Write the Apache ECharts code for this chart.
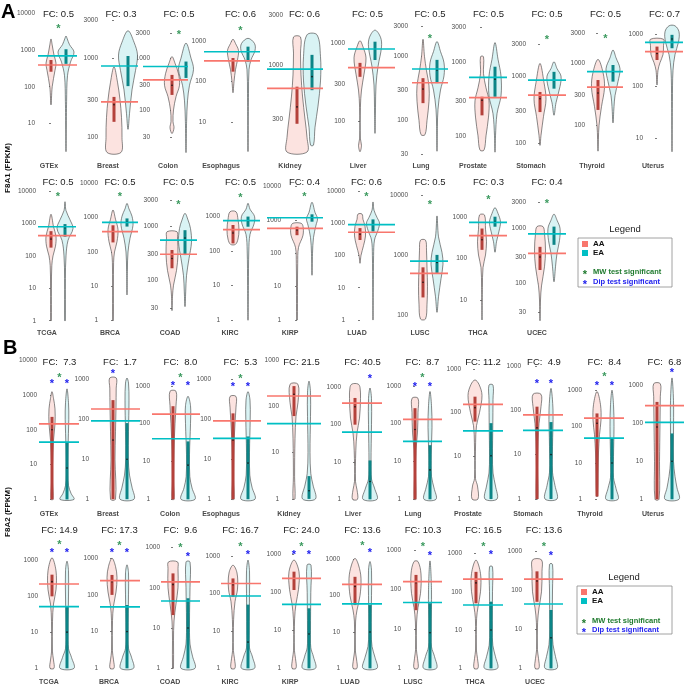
<!DOCTYPE html>
<html><head><meta charset="utf-8">
<script src="https://cdn.jsdelivr.net/npm/echarts@6/dist/echarts.min.js"></script>
<style>html,body{margin:0;padding:0;background:#fff}#c{width:685px;height:685px}</style>
</head><body><div id="c"></div>
<script>
// ================= DATA =================
// ---- Panel A, F8A1, row 1 (GTEx tissues) ----
const a1_names = ['GTEx','Breast','Colon','Esophagus','Kidney','Liver','Lung','Prostate','Stomach','Thyroid','Uterus'];
const a1_fc = [0.5,0.3,0.5,0.6,0.6,0.5,0.5,0.5,0.5,0.5,0.7];
const a1_ticks = [[10,100,1000,10000],[100,300,1000,3000],[30,100,300,1000,3000],[10,100,1000],[300,1000,3000],[100,300,1000],[30,100,300,1000,3000],[100,300,1000,3000],[100,300,1000,3000],[30,100,300,1000,3000],[10,100,1000]];
const a1_logRange = [[0.14,4.09],[1.78,3.61],[1.13,3.93],[0.17,3.79],[2.13,3.53],[1.56,3.43],[1.46,3.73],[1.74,3.71],[1.82,3.99],[1.53,3.84],[0.67,3.46]];
// violin profiles: [FPKM value, half-width of density]
const a1_aaViolin = [
 [[32,0],[100,1.2],[280,4],[440,5],[730,3],[1370,1.2],[2000,0]],
 [[65,7],[100,8],[180,7.5],[300,6],[500,3.5],[780,0]],
 [[35,0],[45,2],[60,1],[100,1.5],[180,4],[300,7.5],[500,6.5],[800,3],[1070,0]],
 [[53,0],[100,1],[200,2.5],[350,4.5],[600,5.5],[900,2.5],[1150,0]],
 [[144,10],[200,10],[300,8],[500,5.5],[800,4],[1300,3.5],[1860,3.5]],
 [[40,0],[48,1.5],[60,0.3],[150,0.4],[250,1.5],[400,4],[650,6],[900,3],[1080,0]],
 [[60,2],[100,4],[200,6],[350,6],[600,3.5],[1000,1.5],[1870,0]],
 [[64,2],[100,4],[180,6.5],[300,7],[450,4],[700,1.5],[1190,1.5]],
 [[92,0],[130,1],[250,3.5],[450,6],[800,4],[1550,0]],
 [[39,0],[60,0.4],[100,1],[200,3.5],[400,6.5],[700,5],[1130,0]],
 [[104,0],[200,1],[280,3],[400,6],[600,6.5],[790,6.5]]
];
const a1_eaViolin = [
 [[1.7,0],[40,0.6],[200,1.5],[470,4.5],[880,8],[1400,3.5],[2100,1],[2400,0]],
 [[127,0],[200,1.5],[400,4],[700,7.5],[1100,9.5],[1600,6],[2230,0]],
 [[15,0],[60,0.6],[150,1.5],[300,3.5],[600,7.5],[1000,5],[1950,0]],
 [[1.8,0],[50,0.5],[200,1],[350,3],[600,7],[900,6.5],[1210,0]],
 [[168,1.5],[250,3],[400,6],[700,8.5],[1200,8.5],[1950,5]],
 [[69,0],[150,0.5],[290,1],[500,3],[900,6.5],[1200,5.5],[1480,0]],
 [[33,0],[80,0.4],[150,1],[300,3.5],[500,7],[800,7],[1200,3.5],[1720,0]],
 [[60,0],[100,0.5],[200,2],[350,6],[650,6],[1100,3],[1850,0]],
 [[260,0],[400,2],[700,6],[1000,7],[1300,3],[1640,0]],
 [[110,0],[200,1],[300,2],[500,5],[800,7],[1200,3],[1590,0]],
 [[5.4,0],[50,0.4],[200,1],[400,3],[700,6.5],[1100,7],[1430,3]]
];
// box: [q1, median, q3]
const a1_aaBox = [[256,390,535],[158,260,326],[195,300,475],[178,330,390],[270,393,616],[370,475,560],[187,310,460],[190,305,340],[290,460,580],[177,330,530],[315,420,570]];
const a1_eaBox = [[420,690,1050],[446,800,1070],[415,690,860],[315,560,750],[570,770,1250],[610,845,1050],[385,620,890],[340,590,870],[650,860,1160],[500,700,920],[530,800,960]];
const a1_aaLine = [390,282,380,330,594,485,390,330,520,410,455];
const a1_eaLine = [690,800,690,560,910,845,640,625,870,720,690];
const a1_mw = [4250,null,3130,2160,null,null,2050,null,3760,2590,null];
const a1_dipAA = [null,null,null,null,null,null,null,null,null,null,null];
const a1_dipEA = [null,null,null,null,null,null,null,null,null,null,null];

// ---- Panel A, F8A1, row 2 (TCGA) ----
const a2_names = ['TCGA','BRCA','COAD','KIRC','KIRP','LUAD','LUSC','THCA','UCEC'];
const a2_fc = [0.5,0.5,0.5,0.5,0.4,0.6,0.5,0.3,0.4];
const a2_ticks = [[1,10,100,1000,10000],[1,10,100,1000,10000],[30,100,300,1000,3000],[1,10,100,1000,10000],[1,10,100,1000,10000],[1,10,100,1000,10000],[100,1000,10000],[10,100,1000],[30,100,300,1000,3000]];
const a2_logRange = [[-0.04,4.25],[-0.04,4.01],[1.22,3.80],[-0.05,3.96],[-0.06,4.11],[-0.06,4.24],[1.88,4.2],[0.47,3.81],[1.30,3.82]];
const a2_aaViolin = [
 [[1,0.3],[10,0.4],[50,0.8],[100,2],[200,4.5],[400,5],[800,2.5],[1930,0]],
 [[1,0.3],[10,0.4],[50,0.6],[100,1.5],[200,4],[450,5],[900,2.5],[1670,0]],
 [[27,0],[50,0.5],[80,1.5],[150,4.5],[300,6],[600,5.5],[785,5]],
 [[155,2.5],[220,5],[400,6],[800,5],[1350,3]],
 [[1,0.3],[10,0.5],[50,0.7],[150,1.5],[350,6],[650,6],[800,4]],
 [[57,0],[100,1],[200,3.5],[400,5.5],[800,5],[1300,3],[1900,2]],
 [[85,2.5],[150,4],[300,4.5],[600,4],[1200,3.5],[1760,2.5]],
 [[3.3,0],[20,0.4],[60,1],[120,3.5],[250,4.5],[500,3.5],[1100,2.5]],
 [[21,0],[50,0.5],[90,1.5],[200,4.5],[400,5.5],[800,4.5],[1070,3]]
];
const a2_eaViolin = [
 [[1,0.3],[20,0.4],[100,1],[300,3],[700,8],[1300,5],[2500,1],[4700,0]],
 [[5.6,0],[30,0.4],[100,1],[250,3],[600,6],[1100,5],[1800,2],[2600,0]],
 [[32,0],[60,0.7],[120,1.5],[250,4],[500,6.5],[900,5.5],[1300,3],[1720,0]],
 [[1,0],[10,0.4],[100,0.8],[300,2],[600,6],[1000,6.5],[1600,2],[2370,0]],
 [[22,0],[100,0.5],[300,1.5],[700,4],[1100,5.5],[1700,3],[3400,0]],
 [[1,0],[10,0.3],[100,0.6],[300,1.5],[600,5],[1000,6.5],[1500,4],[2500,1],[4500,0]],
 [[110,0],[200,1.5],[400,4],[700,6],[1100,5],[2000,1.5],[4470,0]],
 [[140,0],[250,1.5],[450,4],[750,5.5],[1200,3],[1650,0]],
 [[107,0],[200,1.5],[350,3],[600,5.5],[1000,6],[1400,3],[1800,0]]
];
const a2_aaBox = [[180,330,580],[190,380,600],[165,250,360],[165,330,560],[350,500,630],[300,450,700],[195,350,620],[160,280,520],[175,300,460]];
const a2_eaBox = [[390,740,960],[550,760,950],[290,600,840],[500,730,980],[890,1150,1480],[550,900,1300],[500,750,1000],[575,760,1000],[500,800,1070]];
const a2_aaLine = [420,390,300,410,560,520,490,350,350];
const a2_eaLine = [795,730,550,750,1170,890,790,730,790];
const a2_mw = [7900,4600,2800,4100,5900,7900,7450,2870,3050];
const a2_dipAA = [null,null,null,null,null,null,null,null,null];
const a2_dipEA = [null,null,null,null,null,null,null,null,null];

// ---- Panel B, F8A2, row 1 (GTEx tissues) ----
const b1_names = ['GTEx','Breast','Colon','Esophagus','Kidney','Liver','Lung','Prostate','Stomach','Thyroid','Uterus'];
const b1_fc = [7.3,1.7,8.0,5.3,21.5,40.5,8.7,11.2,4.9,8.4,6.8];
const b1_ticks = [[1,10,100,1000,10000],[1,10,100,1000],[1,10,100,1000],[1,10,100,1000],[1,10,100,1000],[1,10,100,1000],[1,10,100,1000],[1,10,100,1000],[1,10,100,1000],[1,10,100,1000],[1,10,100,1000]];
const b1_logRange = [[-0.045,4.12],[-0.045,3.58],[-0.045,3.79],[-0.045,3.58],[-0.045,3.08],[-0.045,3.84],[-0.045,3.79],[-0.045,3.31],[-0.045,3.22],[-0.045,3.94],[-0.045,3.77]];
const b1_aaViolin = [
 [[1,1],[3,0.5],[10,0.5],[50,1.5],[150,3],[400,3],[800,1.5],[1250,0]],
 [[1,2.5],[10,2],[50,2.5],[200,3],[600,3.2],[1070,3.3]],
 [[1,1],[3,0.6],[20,1],[100,2],[300,3],[720,3]],
 [[1,1],[3,0.6],[20,1],[80,2],[200,3],[370,3]],
 [[1,1],[3,0.6],[20,1],[60,2],[120,4],[295,4]],
 [[1,2.5],[1.8,2],[3,0.5],[20,0.8],[60,2],[150,4.5],[500,5.5],[1000,5],[1230,3]],
 [[1,0.8],[5,0.5],[20,1],[60,2.5],[200,3],[470,3]],
 [[1,3],[2,2.5],[3,0.5],[20,0.6],[50,1.5],[100,4.5],[250,7],[450,4],[570,0]],
 [[1,0.8],[5,0.5],[20,1],[50,2],[120,4],[228,4]],
 [[1.2,0.5],[5,1],[20,1.5],[60,2.5],[150,4],[400,3.5],[920,0]],
 [[1,2],[10,2.5],[100,3],[500,3.3],[1100,3.3]]
];
const b1_eaViolin = [
 [[1,7],[1.5,4],[2.5,1.5],[5,0.8],[30,1],[200,1.8],[600,1.5],[1500,0]],
 [[1,7],[2,5],[4,2.5],[10,1.3],[50,1.5],[300,2],[800,1.5],[1070,0]],
 [[1,7],[2,4],[4,1.8],[15,1.5],[100,2.5],[300,2.5],[530,0]],
 [[1,7],[2,4],[4,1.8],[15,1.5],[100,2.2],[300,2],[490,0]],
 [[1,6.5],[2,4],[3.5,1.8],[10,1],[60,1.5],[200,1.5],[345,0]],
 [[1,7],[2,4.5],[3.5,1.5],[10,1],[100,1.5],[500,1.5],[960,0]],
 [[1,6],[2,4],[4,1.5],[15,1.2],[80,2],[300,1.5],[710,0]],
 [[1,6],[2,4.5],[4,2],[10,1.5],[50,1.8],[200,2],[435,2]],
 [[1,6],[2,4],[4,1.5],[15,1.5],[100,2],[310,0]],
 [[1,6],[2,4],[4,1.5],[15,1.5],[100,2],[400,1.5],[1000,0]],
 [[1,7],[2,5],[4,3],[10,1.5],[50,1.5],[400,1.5],[1560,0]]
];
const b1_aaBox = [[1,100,235],[1,30,300],[1,40,290],[1,30,140],[61,180,270],[100,300,520],[1,70,257],[62,130,234],[1,40,120],[1.2,123,230],[1,80,365]];
const b1_eaBox = [[1,8,42],[1,10,80],[1,8,34],[1,8,37],[1,1.5,3.1],[1,3,11],[1,6,27],[1,10,57],[1,10,54],[1,10,48],[1,10,54]];
const b1_aaLine = [148,180,180,91,165,380,130,155,78,170,290];
const b1_eaLine = [44,91,40,33,42,63,34,38,35,48,105];
const b1_mw = [3700,null,1870,1170,null,null,1850,null,null,2650,null];
const b1_dipAA = [2400,1600,1130,720,null,null,1100,null,450,1550,null];
const b1_dipEA = [2400,null,1130,720,null,1900,1100,null,450,1550,2470];

// ---- Panel B, F8A2, row 2 (TCGA) ----
const b2_names = ['TCGA','BRCA','COAD','KIRC','KIRP','LUAD','LUSC','THCA','UCEC'];
const b2_fc = [14.9,17.3,9.6,16.7,24.0,13.6,10.3,16.5,13.6];
const b2_ticks = [[1,10,100,1000],[1,10,100,1000],[1,10,100,1000],[1,10,100,1000],[1,10,100,1000],[1,10,100,1000],[1,10,100,1000],[1,10,100,1000],[1,10,100,1000]];
const b2_logRange = [[-0.047,3.91],[-0.046,3.85],[-0.042,3.51],[-0.045,3.77],[-0.045,3.72],[-0.047,3.89],[-0.043,3.59],[-0.044,3.69],[-0.043,3.61]];
const b2_aaViolin = [
 [[1,2],[1.7,1.5],[3,0.4],[20,0.5],[60,1.5],[150,4],[500,4],[1140,0]],
 [[1,2],[1.7,1.5],[3,0.4],[20,0.5],[50,1.5],[120,4],[300,5],[600,3.5],[1000,0]],
 [[1,0.5],[5,0.5],[15,1],[40,3],[100,5],[300,5],[440,4.5]],
 [[1,2],[1.8,1.5],[3,0.4],[20,0.6],[60,2],[130,4.5],[350,4],[565,0]],
 [[1,2],[1.8,1.5],[3,0.4],[20,0.6],[50,2],[120,4.5],[350,5],[710,0]],
 [[1,2],[1.8,1.5],[3,0.4],[20,0.6],[40,2],[100,5],[300,6],[700,3.5],[1060,0]],
 [[1,2],[1.8,1.5],[3,0.4],[15,0.6],[35,2],[80,4.5],[250,5],[515,2]],
 [[1,2],[1.8,1.5],[3,0.4],[20,0.6],[40,2],[100,4.5],[300,4.5],[670,0]],
 [[1,2],[1.8,1.5],[3,0.4],[15,0.6],[35,2],[90,4.5],[300,5],[590,4.5]]
];
const b2_eaViolin = [
 [[1,7],[2,4.5],[3.5,1.5],[10,1],[100,1.5],[500,1.5],[920,0]],
 [[1,6.5],[2,4.5],[3.5,1.5],[10,1],[100,1.5],[400,1.5],[660,0]],
 [[1,7],[2,4.5],[4,2],[15,1.5],[100,2],[440,2]],
 [[1,6.5],[2,4.5],[3.5,1.5],[10,1.2],[100,1.5],[400,1.5],[770,0]],
 [[1,6.5],[2,4.5],[3.5,1.8],[10,1.5],[100,1.8],[525,2]],
 [[1,7],[2,5],[4,2],[10,1.2],[100,1.5],[500,1.5],[870,0]],
 [[1,6.5],[2,4.5],[3.5,1.5],[10,1.2],[100,1.5],[535,0]],
 [[1,6.5],[2,4.5],[4,1.8],[10,1.3],[100,1.5],[450,1.5]],
 [[1,6],[2,4.5],[4,2],[10,1.3],[100,1.5],[455,1.5]]
];
const b2_aaBox = [[98,250,390],[100,230,350],[21,120,228],[81,170,250],[115,230,350],[55,180,330],[30,150,236],[50,170,330],[50,170,300]];
const b2_eaBox = [[1,10,52],[1,10,53],[1,10,55],[1,5,50],[1,8,38],[1,10,55],[1,8,45],[1,10,55],[1,6,31]];
const b2_aaLine = [215,245,140,183,233,205,160,214,190];
const b2_eaLine = [51,47,47,85,48,59,47,45,44];
const b2_mw = [2960,2570,1140,2000,1830,2750,1420,1720,1480];
const b2_dipAA = [1820,1590,null,null,1100,null,null,null,null];
const b2_dipEA = [1820,1590,670,1200,1100,1700,840,1040,870];

// ================= LAYOUT (pixels) =================
const L_a1 = {top:10,bottom:155,fcY:14,labY:166,
 aaX:[51,114,172,233,297,360,423,482,540,598,657], eaX:[66,128,186,248,312,375,437,495,554,613,672],
 lineL:[38,101,143,204,267,348,412,469,528,587,645], lineR:[77,138,188,260,323,395,448,507,566,623,683],
 axisX:[37,100,152,208,285,347,410,468,528,587,645], labX:[49,108,168,221,290,358,421,473,531,592,653]};
const L_a2 = {top:183,bottom:322,fcY:182,labY:333,
 aaX:[51,113,172,233,297,360,423,482,540], eaX:[65,127,185,248,312,373,437,495,554],
 lineL:[38,102,160,223,267,348,410,469,528], lineR:[76,138,197,260,323,395,448,507,566],
 axisX:[38,100,160,222,283,347,410,469,528], labX:[47,110,170,230,290,357,420,478,537]};
const L_b1 = {top:356,bottom:501,fcY:362,labY:514,
 aaX:[52,113,173,233,294,355,415,475,537,597,657], eaX:[67,127,188,248,309,370,430,491,551,612,672],
 lineL:[39,91,152,213,267,342,403,463,523,584,645], lineR:[79,140,200,261,321,382,442,503,563,624,684],
 axisX:[39,91,152,213,281,343,403,463,523,584,645], labX:[49,108,170,221,289,353,413,468,528,590,653]};
const L_b2 = {top:527,bottom:670,fcY:530,labY:682,
 aaX:[52,112,173,233,294,355,416,476,537], eaX:[67,127,188,248,309,370,430,491,551],
 lineL:[39,100,161,221,282,342,403,463,524], lineR:[79,140,200,261,321,382,442,503,563],
 axisX:[40,100,162,222,283,342,403,464,524], labX:[49,109,170,230,290,350,413,475,535]};

const rows = [
 {names:a1_names,fc:a1_fc,ticks:a1_ticks,range:a1_logRange,aaV:a1_aaViolin,eaV:a1_eaViolin,aaB:a1_aaBox,eaB:a1_eaBox,aaL:a1_aaLine,eaL:a1_eaLine,mw:a1_mw,dA:a1_dipAA,dE:a1_dipEA,pad:false,L:L_a1},
 {names:a2_names,fc:a2_fc,ticks:a2_ticks,range:a2_logRange,aaV:a2_aaViolin,eaV:a2_eaViolin,aaB:a2_aaBox,eaB:a2_eaBox,aaL:a2_aaLine,eaL:a2_eaLine,mw:a2_mw,dA:a2_dipAA,dE:a2_dipEA,pad:false,L:L_a2},
 {names:b1_names,fc:b1_fc,ticks:b1_ticks,range:b1_logRange,aaV:b1_aaViolin,eaV:b1_eaViolin,aaB:b1_aaBox,eaB:b1_eaBox,aaL:b1_aaLine,eaL:b1_eaLine,mw:b1_mw,dA:b1_dipAA,dE:b1_dipEA,pad:true,L:L_b1},
 {names:b2_names,fc:b2_fc,ticks:b2_ticks,range:b2_logRange,aaV:b2_aaViolin,eaV:b2_eaViolin,aaB:b2_aaBox,eaB:b2_eaBox,aaL:b2_aaLine,eaL:b2_eaLine,mw:b2_mw,dA:b2_dipAA,dE:b2_dipEA,pad:true,L:L_b2}
];

// ================= STYLES =================
const FONT = 'Liberation Sans';
const C_AA = '#F8766D', C_EA = '#00BFC4';
const FILL_AA = '#fce3e0', FILL_EA = '#d9f3f4';
const BOX_AA = '#b4413b', BOX_EA = '#0c8587';
const C_MW = '#3c9a5f', C_DIP = '#2222ee';

const grids=[], xAxes=[], yAxes=[], series=[], graphics=[];
let k = 0;
rows.forEach(function(row){
  const L = row.L;
  row.names.forEach(function(name, i){
    const gi = k++;
    const sep = L.eaX[i]-L.aaX[i];
    grids.push({left:L.lineL[i], top:L.top, width:L.lineR[i]-L.lineL[i], height:L.bottom-L.top, containLabel:false});
    xAxes.push({gridIndex:gi, type:'value', show:false, min:(L.lineL[i]-L.aaX[i])/sep, max:(L.lineR[i]-L.aaX[i])/sep});
    yAxes.push({gridIndex:gi, type:'log', logBase:10, min:Math.pow(10,row.range[i][0]), max:Math.pow(10,row.range[i][1]),
      offset:L.lineL[i]-L.axisX[i],
      axisLine:{show:false}, splitLine:{show:false}, minorTick:{show:false},
      axisTick:{show:true, length:2, lineStyle:{color:'#444', width:0.7}, customValues:row.ticks[i]},
      axisLabel:{show:true, customValues:row.ticks[i], fontSize:6.5, color:'#4d4d4d', margin:2, fontFamily:FONT,
        formatter:function(v){return String(Math.round(v));}}});
    const aaV=row.aaV[i], eaV=row.eaV[i], aaB=row.aaB[i], eaB=row.eaB[i];
    // violins + inner boxes
    series.push({type:'custom', xAxisIndex:gi, yAxisIndex:gi, silent:true, z:2,
      data:[[0,aaB[1]],[1,eaB[1]]], encode:{x:0,y:1},
      renderItem:function(params, api){
        const g = api.value(0);
        const knots = g===0?aaV:eaV, box = g===0?aaB:eaB;
        const cx = api.coord([g, knots[0][0]])[0];
        const right = [], left = [];
        knots.forEach(function(kn){ const y = api.coord([g,kn[0]])[1]; right.push([cx+kn[1], y]); });
        for(let j=knots.length-1;j>=0;j--){ const kn=knots[j]; if((j===knots.length-1||j===0) && kn[1]===0) continue; const y=api.coord([g,kn[0]])[1]; left.push([cx-kn[1], y]); }
        const pts = right.concat(left);
        const yq1 = api.coord([g,box[0]])[1], yq3 = api.coord([g,box[2]])[1], ym = api.coord([g,box[1]])[1];
        return {type:'group', children:[
          {type:'polygon', shape:{points:pts, smooth:0.35}, style:{fill:g===0?FILL_AA:FILL_EA, stroke:'#3a3a3a', lineWidth:0.6}},
          {type:'rect', shape:{x:cx-1.5, y:yq3, width:3, height:Math.max(yq1-yq3,0.5)}, style:{fill:g===0?BOX_AA:BOX_EA}},
          {type:'circle', shape:{cx:cx, cy:ym, r:0.8}, style:{fill:'#111'}}
        ]};
      }});
    // group median lines
    series.push({type:'custom', xAxisIndex:gi, yAxisIndex:gi, silent:true, z:3,
      data:[[0,row.aaL[i]],[1,row.eaL[i]]], encode:{x:0,y:1},
      renderItem:function(params, api){
        const g = api.value(0);
        const y = api.coord([g, api.value(1)])[1];
        const cs = params.coordSys;
        return {type:'line', shape:{x1:cs.x, y1:y, x2:cs.x+cs.width, y2:y}, style:{stroke:g===0?C_AA:C_EA, lineWidth:1.7}};
      }});
    // significance stars
    const stars = [];
    if(row.mw[i]!=null) stars.push([0.5,row.mw[i],0]);
    if(row.dA[i]!=null) stars.push([0,row.dA[i],1]);
    if(row.dE[i]!=null) stars.push([1,row.dE[i],1]);
    if(stars.length){
      series.push({type:'custom', xAxisIndex:gi, yAxisIndex:gi, silent:true, z:4,
        data:stars, encode:{x:0,y:1},
        renderItem:function(params, api){
          const p = api.coord([api.value(0), api.value(1)]);
          return {type:'text', x:p[0], y:p[1]+2.5, style:{text:'*', fill:api.value(2)===1?C_DIP:C_MW, font:'bold 11px '+FONT, textAlign:'center', textVerticalAlign:'middle'}};
        }});
    }
    // FC title & category label
    const fcTxt = row.pad ? ('FC: '+row.fc[i].toFixed(1).padStart(4,' ')) : ('FC: '+row.fc[i].toFixed(1));
    graphics.push({type:'text', x:(L.aaX[i]+L.eaX[i])/2, y:L.fcY, style:{text:fcTxt, font:'9.5px '+FONT, fill:'#222', textAlign:'center', textVerticalAlign:'middle'}});
    graphics.push({type:'text', x:L.labX[i], y:L.labY, style:{text:name, font:'bold 7px '+FONT, fill:'#4a4a4a', textAlign:'center', textVerticalAlign:'middle'}});
  });
});

// panel letters and y-axis titles
graphics.push({type:'text', x:1, y:12, style:{text:'A', font:'bold 20px '+FONT, fill:'#000', textVerticalAlign:'middle'}});
graphics.push({type:'text', x:3, y:348, style:{text:'B', font:'bold 20px '+FONT, fill:'#000', textVerticalAlign:'middle'}});
graphics.push({type:'text', x:8, y:168, rotation:Math.PI/2, style:{text:'F8A1 (FPKM)', font:'bold 8px '+FONT, fill:'#111', textAlign:'center', textVerticalAlign:'middle'}});
graphics.push({type:'text', x:8, y:512, rotation:Math.PI/2, style:{text:'F8A2 (FPKM)', font:'bold 8px '+FONT, fill:'#111', textAlign:'center', textVerticalAlign:'middle'}});

// legends
function addLegend(tx, ty, bx, by, bw, bh, yAA, yEA, yMW, yDip){
  graphics.push({type:'text', x:tx, y:ty, style:{text:'Legend', font:'9.5px '+FONT, fill:'#222', textAlign:'center', textVerticalAlign:'middle'}});
  graphics.push({type:'rect', shape:{x:bx, y:by, width:bw, height:bh}, style:{fill:'none', stroke:'#8a8a8a', lineWidth:0.8}});
  graphics.push({type:'rect', shape:{x:bx+4, y:yAA-3, width:6, height:6}, style:{fill:C_AA}});
  graphics.push({type:'rect', shape:{x:bx+4, y:yEA-3, width:6, height:6}, style:{fill:C_EA}});
  graphics.push({type:'text', x:bx+15, y:yAA, style:{text:'AA', font:'bold 8px '+FONT, fill:'#111', textVerticalAlign:'middle'}});
  graphics.push({type:'text', x:bx+15, y:yEA, style:{text:'EA', font:'bold 8px '+FONT, fill:'#111', textVerticalAlign:'middle'}});
  graphics.push({type:'text', x:bx+7, y:yMW+2.5, style:{text:'*', font:'bold 11px '+FONT, fill:'#1f7a2e', textAlign:'center', textVerticalAlign:'middle'}});
  graphics.push({type:'text', x:bx+7, y:yDip+2.5, style:{text:'*', font:'bold 11px '+FONT, fill:C_DIP, textAlign:'center', textVerticalAlign:'middle'}});
  graphics.push({type:'text', x:bx+15, y:yMW, style:{text:'MW test significant', font:'bold 7.5px '+FONT, fill:'#1f7a2e', textVerticalAlign:'middle'}});
  graphics.push({type:'text', x:bx+15, y:yDip, style:{text:'Dip test significant', font:'bold 7.5px '+FONT, fill:C_DIP, textVerticalAlign:'middle'}});
}
addLegend(625, 229, 578, 238, 94, 49, 244, 253, 272, 282);
addLegend(624, 577, 577, 586, 95, 48, 592, 601, 621, 630);

const chart = echarts.init(document.getElementById('c'), null, {renderer:'canvas'});
chart.setOption({animation:false, backgroundColor:'#fff', grid:grids, xAxis:xAxes, yAxis:yAxes, series:series, graphic:graphics});
</script></body></html>
